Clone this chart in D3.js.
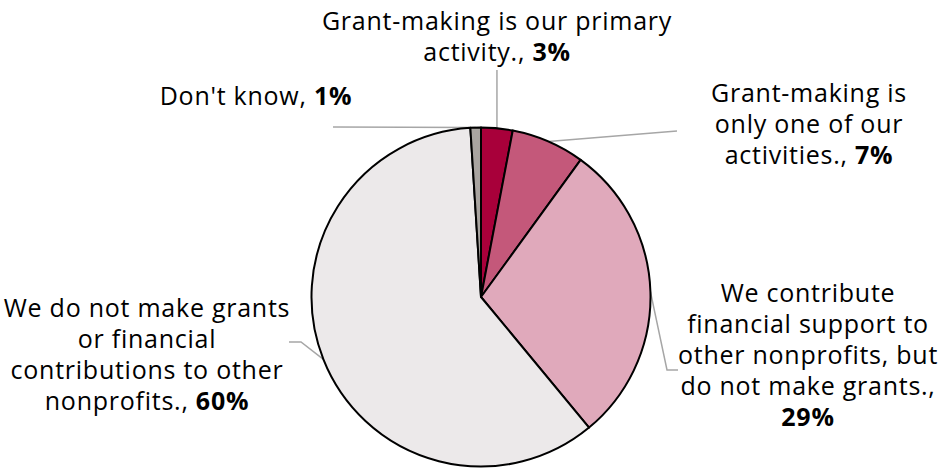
<!DOCTYPE html>
<html><head><meta charset="utf-8">
<script src="https://cdn.jsdelivr.net/npm/d3@7"></script>
<style>body{margin:0;background:#fff}</style></head>
<body><svg id="c" width="942" height="468"></svg>
<script>
// ---- data ----
const categories = [
  "Grant-making is our primary activity.",
  "Grant-making is only one of our activities.",
  "We contribute financial support to other nonprofits, but do not make grants.",
  "We do not make grants or financial contributions to other nonprofits.",
  "Don't know"
];
const values = [3, 7, 29, 60, 1];
const colors = ["#A8003A", "#C4587A", "#E0A9BB", "#ECE9EA", "#A9A4A0"];
// label text split into lines (last line carries the bold value)
const labelLines = [
  ["Grant-making is our primary", "activity.,"],
  ["Grant-making is", "only one of our", "activities.,"],
  ["We contribute", "financial support to", "other nonprofits, but", "do not make grants.,", ""],
  ["We do not make grants", "or financial", "contributions to other", "nonprofits.,"],
  ["Don't know,"]
];

// ---- layout ----
const W = 942, H = 468;
const cx = 481, cy = 297, R = 169.5;
const fontFamily = "'Open Sans', sans-serif";
const fontSize = 25, lineH = 31;
const labelPos = [
  {x: 497, y: 30},
  {x: 809, y: 102},
  {x: 808, y: 302},
  {x: 147, y: 317},
  {x: 256, y: 105}
];
// leader line end points (after the arc point)
const leaderEnds = [
  [[null, 70]],
  [[677, 131]],
  [[667, 370], [678, 370]],
  [[301, 342], [289, 342]],
  [[333, 127]]
];

const svg = d3.select("#c");
const pie = d3.pie().sort(null).value(d => d).startAngle(0).endAngle(2 * Math.PI);
const arcs = pie(values);
const arc = d3.arc().innerRadius(0).outerRadius(R);

// leader lines
arcs.forEach((a, i) => {
  const mid = (a.startAngle + a.endAngle) / 2;
  const p0 = [cx + R * Math.sin(mid), cy - R * Math.cos(mid)];
  const pts = [p0].concat(leaderEnds[i].map(p => [p[0] === null ? p0[0] : p[0], p[1]]));
  svg.append("path")
    .attr("d", d3.line()(pts))
    .attr("fill", "none")
    .attr("stroke", "#A6A6A6")
    .attr("stroke-width", 1.5);
});

const g = svg.append("g").attr("transform", `translate(${cx},${cy})`);
g.selectAll("path.slice").data(arcs).join("path")
  .attr("class", "slice")
  .attr("d", arc)
  .attr("fill", (d, i) => colors[i])
  .attr("stroke", "#000")
  .attr("stroke-width", 2)
  .attr("stroke-linejoin", "round");

// labels
labelLines.forEach((lines, i) => {
  const t = svg.append("text")
    .attr("text-anchor", "middle")
    .attr("font-family", fontFamily)
    .attr("font-size", fontSize)
    .attr("letter-spacing", "0.75px")
    .attr("fill", "#000");
  lines.forEach((ln, j) => {
    const ts = t.append("tspan").attr("x", labelPos[i].x).attr("y", labelPos[i].y + j * lineH);
    if (j === lines.length - 1) {
      if (ln) ts.append("tspan").text(ln + " ");
      ts.append("tspan").attr("font-weight", "bold").text(values[i] + "%");
    } else {
      ts.text(ln);
    }
  });
});
</script></body></html>
